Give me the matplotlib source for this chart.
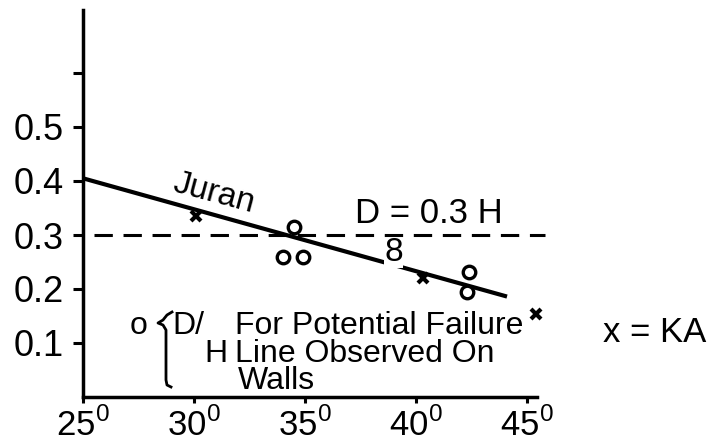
import numpy as np
import matplotlib
matplotlib.use('Agg')
import matplotlib.pyplot as plt

plt.rcParams['font.family'] = ['Liberation Sans', 'DejaVu Sans']
plt.rcParams['mathtext.fontset'] = 'custom'
plt.rcParams['mathtext.rm'] = 'Liberation Sans'

# data
juran_x = [25.0, 44.1]
juran_y = [0.405, 0.186]
circle_x = [34.5, 34.0, 34.9, 42.4, 42.3]
circle_y = [0.315, 0.26, 0.26, 0.232, 0.194]
cross_x = [30.1, 40.3, 45.4]
cross_y = [0.335, 0.221, 0.153]
double_x = 39.0
double_y = 0.267
d_ratio = 0.3
dash_x = [25.5, 45.8]

xticks = [25, 30, 35, 40, 45]
xticklabels = [r'%d$^\mathregular{0}$' % t for t in xticks]
yticks = [0.1, 0.2, 0.3, 0.4, 0.5, 0.6]
yticklabels = ['0.1', '0.2', '0.3', '0.4', '0.5', '']

W, H = 711, 448
fig = plt.figure(figsize=(W/100, H/100), dpi=100)
ax = fig.add_axes([83/W, 51/H, 454/W, 387/H])
ax.set_xlim(25, 25 + 454/22.2)
ax.set_ylim(0, 387/540)

def px(x, y):
    # pixel position (from top-left) -> figure fraction
    return x/W, 1 - y/H

# lines
ax.plot(juran_x, juran_y, 'k-', lw=3, solid_capstyle='butt', zorder=2)
ax.plot(dash_x, [d_ratio, d_ratio], 'k', lw=2.2, dashes=(6, 3.5), clip_on=False, zorder=5)

# markers
ax.plot(circle_x, circle_y, 'o', ms=9, mfc='white', mec='k', mew=2.4, zorder=3, clip_on=False)
ax.plot(cross_x, cross_y, 'x', ms=7, mec='k', mew=3, zorder=3, clip_on=False)
ax.text(double_x, double_y, '8', fontsize=24, ha='center', va='center', zorder=4,
        bbox=dict(facecolor='white', edgecolor='none', pad=0))

# axes styling
for s in ['top', 'right']:
    ax.spines[s].set_visible(False)
for s in ['left', 'bottom']:
    ax.spines[s].set_linewidth(2.5)
ax.set_xticks(xticks)
ax.set_xticklabels(xticklabels, fontsize=25)
ax.set_yticks(yticks)
ax.set_yticklabels(yticklabels, fontsize=26)
ax.tick_params(axis='y', length=7, width=2.2, pad=7)
ax.tick_params(axis='x', length=4.5, width=2.2, pad=3)

# annotations
ax.text(30.9, 0.376, 'Juran', fontsize=24, rotation=-15, ha='center', va='center')
ax.text(37.25, 0.322, 'D = 0.3 H', fontsize=25, ha='left', va='baseline')
fig.text(*px(603, 342), 'x = KA', fontsize=25, ha='left', va='baseline')

fig.text(*px(130, 334), 'o', fontsize=23, ha='left', va='baseline')
fig.text(*px(172, 334), 'D/', fontsize=23, ha='left', va='baseline')
fig.text(*px(204, 362), 'H', fontsize=23, ha='left', va='baseline')
fig.text(*px(235, 334), 'For Potential Failure', fontsize=23, ha='left', va='baseline')
fig.text(*px(235, 362), 'Line Observed On', fontsize=23, ha='left', va='baseline')
fig.text(*px(238, 389), 'Walls', fontsize=23, ha='left', va='baseline')

# brace
bx = np.array([172, 167, 163, 158, 163, 166, 166, 167, 171])
by = np.array([312, 315, 320, 323, 325, 330, 380, 385, 387])
fx, fy = px(bx, by)
fig.add_artist(plt.Line2D(fx, fy, color='k', lw=2, transform=fig.transFigure))

fig.savefig('out.png', dpi=100)
